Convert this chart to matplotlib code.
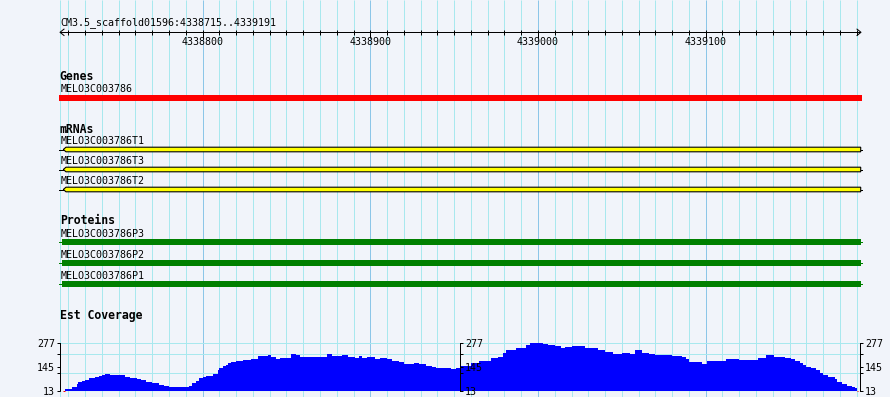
import numpy as np
import matplotlib.pyplot as plt

# === Region shown ===
SEQ_ID = "CM3.5_scaffold01596"
RANGE_START = 4338715
RANGE_END = 4339191

# === Features ===
gene_names = ["MELO3C003786"]
mrna_names = ["MELO3C003786T1", "MELO3C003786T3", "MELO3C003786T2"]
protein_names = ["MELO3C003786P3", "MELO3C003786P2", "MELO3C003786P1"]
feature_start = 4338715
feature_end = 4339191

ruler_labels = [4338800, 4338900, 4339000, 4339100]

# === Est coverage (offset from RANGE_START in bp, value) ===
cov_offset = [2, 3, 7, 10, 11, 13, 15, 17, 21, 23, 25, 27, 30, 39, 42, 46, 48, 51, 55, 59,
              62, 65, 66, 69, 77, 79, 81, 83, 85, 87, 91, 94, 95, 97, 99, 100, 102, 105, 109, 111,
              114, 118, 124, 126, 129, 131, 134, 138, 141, 143, 148, 150, 153, 156, 159, 162, 168, 172, 176, 178,
              180, 183, 188, 191, 195, 198, 202, 205, 211, 214, 218, 222, 224, 228, 233, 236, 239, 245, 250, 257,
              261, 264, 266, 272, 278, 280, 283, 288, 291, 295, 299, 301, 305, 313, 321, 325, 330, 335, 340, 343,
              347, 351, 355, 365, 371, 373, 375, 380, 383, 386, 397, 405, 411, 416, 421, 426, 432, 436, 438, 441,
              443, 445, 448, 451, 453, 455, 458, 462, 463, 466, 469, 472, 474, 475, 476]
cov_value = [13, 25, 36, 50, 61, 66, 75, 84, 91, 97, 100, 106, 100, 91, 86, 79, 71, 64, 55, 47,
             40, 33, 36, 33, 39, 55, 68, 82, 91, 95, 106, 129, 140, 148, 155, 164, 173, 179, 184, 181,
             186, 204, 210, 200, 188, 192, 195, 215, 210, 200, 197, 201, 197, 200, 215, 207, 210, 199, 193, 204,
             192, 197, 190, 193, 186, 179, 173, 161, 166, 161, 151, 144, 139, 140, 135, 140, 151, 164, 179, 192,
             200, 219, 237, 250, 264, 274, 277, 268, 264, 257, 246, 252, 257, 246, 239, 228, 215, 219, 215, 235,
             222, 215, 212, 206, 199, 186, 173, 170, 162, 179, 188, 184, 182, 192, 210, 200, 195, 186, 179, 168,
             155, 146, 137, 126, 110, 100, 90, 77, 64, 50, 40, 33, 28, 13]
cov_ticks = [13, 145, 277]
cov_minor = [113, 213]

# === Layout (pixels) ===
W, H = 890, 397
PAD_LEFT = 60
TRACK_W = 800
PX = TRACK_W / (RANGE_END - RANGE_START + 1)

BG = "#F1F4FA"
GRID = "#A8E8EE"
GRID_MAJOR = "#8CC6E8"
MONO = "DejaVu Sans Mono"
FS = 7.2
FS_BOLD = 8.3
LW1 = 72 / 100  # one pixel


def bx(p):
    """pixel column -> bp"""
    return RANGE_START + (p - PAD_LEFT) / PX


fig = plt.figure(figsize=(W / 100, H / 100), dpi=100)
fig.patch.set_facecolor(BG)
ax = fig.add_axes([0, 0, 1, 1])
ax.set_xlim(bx(0), bx(W))
ax.set_ylim(H, 0)
ax.axis("off")

# grid
grid_pos = np.arange((RANGE_START // 10 + 1) * 10, RANGE_END + 1, 10)
minor = grid_pos[grid_pos % 100 != 0]
major = grid_pos[grid_pos % 100 == 0]
ax.vlines([bx(PAD_LEFT - 0.5)], 0, H, color=GRID, lw=LW1, zorder=0)
ax.vlines(minor, 0, H, color=GRID, lw=LW1, zorder=0)
ax.vlines(major, 0, H, color=GRID_MAJOR, lw=LW1, zorder=0)

# ruler
y_r = 32.3
ax.text(bx(60.5), 25.5, f"{SEQ_ID}:{RANGE_START}..{RANGE_END}", family=MONO, fontsize=FS, va="baseline")
ax.plot([RANGE_START, RANGE_END + 1], [y_r, y_r], color="black", lw=LW1)
ax.plot([bx(64), bx(60), bx(64)], [y_r - 3.2, y_r, y_r + 3.2], color="black", lw=LW1)
ax.plot([bx(857), bx(861), bx(857)], [y_r - 3.2, y_r, y_r + 3.2], color="black", lw=LW1)
ax.vlines(minor, 30, 34.7, color="black", lw=LW1)
ax.vlines(major, 29.5, 37.5, color="black", lw=LW1)
for p in ruler_labels:
    ax.text(p, 45, str(p), family=MONO, fontsize=FS, ha="center", va="baseline")


def track_title(y, text):
    ax.text(bx(59.7), y, text, family=MONO, fontsize=FS_BOLD, fontweight="bold", va="baseline")


def feature_label(y, text):
    ax.text(bx(60.7), y, text, family=MONO, fontsize=FS, va="baseline")


x_s = feature_start
x_e = feature_end + 1

# genes
track_title(80, "Genes")
for i, name in enumerate(gene_names):
    yc = 97.9 + i * 20
    feature_label(yc - 5.6, name)
    ax.barh(yc, bx(861.8) - bx(59.3), left=bx(59.3), height=5.7, color="#FF0000", lw=0)

# mRNAs (minus strand, arrow on the left)
track_title(132.7, "mRNAs")
for i, name in enumerate(mrna_names):
    yc = 149.5 + i * 20
    feature_label(yc - 5.2, name)
    tip = x_s + 3.3 / PX
    sh = x_s + 6 / PX
    end = x_e + 0.7 / PX
    ax.plot([x_s - 1 / PX, tip], [yc, yc], color="black", lw=LW1)
    ax.plot([end, x_e + 2 / PX], [yc, yc], color="black", lw=LW1)
    ax.fill([tip, sh, end, end, sh], [yc, yc - 2.3, yc - 2.3, yc + 2.3, yc + 2.3],
            facecolor="#FFFF00", edgecolor="black", lw=LW1 * 1.1)

# proteins
track_title(224.3, "Proteins")
for i, name in enumerate(protein_names):
    yc = 242 + i * 21
    feature_label(yc - 5.3, name)
    ax.plot([x_s - 1 / PX, x_e + 2 / PX], [yc, yc], color="#008000", lw=LW1)
    ax.barh(yc, (x_e + 0.7 / PX) - (x_s + 2 / PX), left=x_s + 2 / PX, height=6.2, color="#008000", lw=0)

# coverage
track_title(319.5, "Est Coverage")
cov_top, cov_bot = 342.7, 392.3
lo = cov_ticks[0] - (cov_bot - 391.0) * (cov_ticks[-1] - cov_ticks[0]) / (391.0 - cov_top)
cax = fig.add_axes([PAD_LEFT / W, (H - cov_bot) / H, TRACK_W / W, (cov_bot - cov_top) / H])
cax.patch.set_visible(False)
cax.set_xlim(RANGE_START, RANGE_END + 1)
cax.set_ylim(lo, cov_ticks[-1])

pos = RANGE_START + np.array(cov_offset, dtype=float)
vals = np.array(cov_value, dtype=float)
for yv in cov_minor + [cov_ticks[-1]]:
    cax.axhline(yv, color=GRID, lw=LW1, zorder=0, clip_on=False)
cax.fill_between(pos, np.append(vals, vals[-1]), cov_ticks[0], step="post", color="#0000FF", lw=0, zorder=2)
cax.axhline(lo + 0.6 * (cov_ticks[-1] - lo) / (cov_bot - cov_top), color=GRID, lw=LW1 * 1.3, zorder=3)
for i, v in enumerate(vals):
    if v <= cov_ticks[0]:
        cax.hlines(v, pos[i], pos[i + 1], color="#FF0000", lw=LW1, zorder=4)

cax.set_xticks([])
for s in ["top", "bottom", "right"]:
    cax.spines[s].set_visible(False)
cax.spines["left"].set_bounds(cov_ticks[0], cov_ticks[-1])

def style_axis(a, side):
    a.set_yticks(cov_ticks)
    a.set_yticks(cov_minor, minor=True)
    a.set_yticklabels([str(t) for t in cov_ticks], family=MONO, fontsize=FS)
    a.tick_params(axis="y", which="both", direction="out", length=2.5, width=LW1, pad=1.2, colors="black")
    a.spines[side].set_linewidth(LW1)
    a.spines[side].set_bounds(cov_ticks[0], cov_ticks[-1])

style_axis(cax, "left")

for frac in (0.5, 1.0):
    t = cax.twinx()
    t.set_ylim(cax.get_ylim())
    t.set_xticks([])
    for s in ["top", "bottom", "left"]:
        t.spines[s].set_visible(False)
    t.spines["right"].set_position(("axes", frac))
    style_axis(t, "right")

fig.savefig("out.png", dpi=100, facecolor=BG)
